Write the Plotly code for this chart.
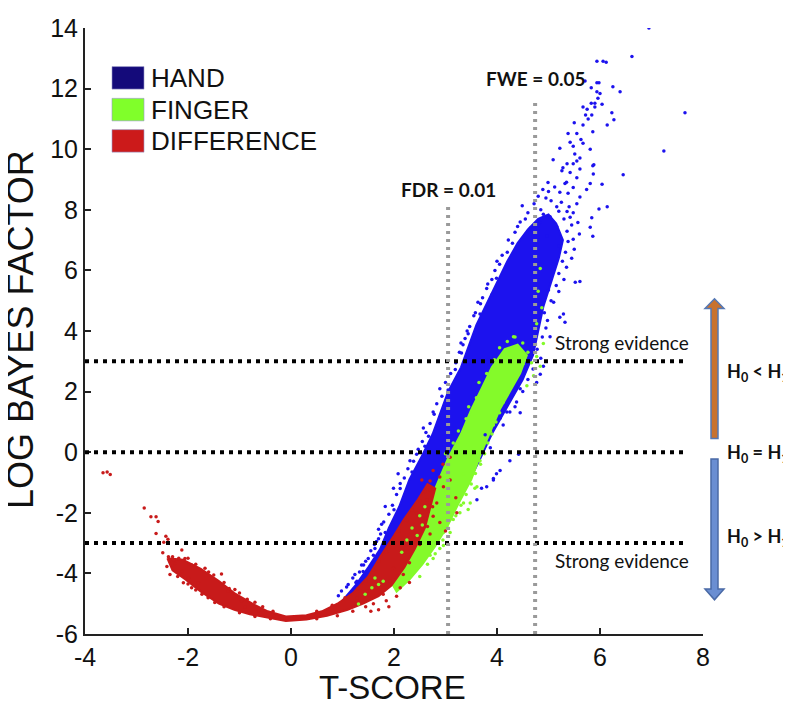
import plotly.graph_objects as go

# ---------------- data ----------------
x_ticks = [-4, -2, 0, 2, 4, 6, 8]
y_ticks = [-6, -4, -2, 0, 2, 4, 6, 8, 10, 12, 14]
series_names = ["HAND", "FINGER", "DIFFERENCE"]

evidence_levels = [3, 0, -3]          # horizontal dotted lines (log BF)
evidence_line_end = 7.65
fdr_t, fdr_top = 3.05, 8.2            # FDR = 0.01 threshold
fwe_t, fwe_top = 4.74, 11.6           # FWE = 0.05 threshold

# dense cores of each cloud (outline of the solid-looking region)
hand_core = [(1.0, -4.9), (1.25, -4.4), (1.5, -3.8), (1.73, -3.2), (1.9, -2.5), (2.1, -1.8),
             (2.3, -0.9), (2.55, -0.1), (2.75, 0.6), (2.9, 1.3), (3.05, 2.0), (3.3, 2.8),
             (3.45, 3.5), (3.6, 4.2), (3.8, 4.9), (4.0, 5.6), (4.2, 6.3), (4.4, 6.9), (4.6, 7.35),
             (4.8, 7.7), (5.0, 7.85), (5.15, 7.55), (5.28, 7.0), (5.2, 6.4), (5.05, 5.6), (4.9, 4.8),
             (4.8, 4.0), (4.7, 3.2), (4.5, 2.4), (4.2, 1.5), (3.9, 0.6), (3.65, -0.3),
             (3.35, -1.3), (3.0, -2.2), (2.6, -3.0), (2.2, -3.8), (1.8, -4.4), (1.4, -4.8), (1.1, -5.1)]
finger_core = [(1.95, -4.3), (2.15, -3.6), (2.35, -2.8), (2.6, -2.0), (2.8, -1.2), (3.05, -0.2),
               (3.3, 0.6), (3.5, 1.4), (3.7, 2.1), (3.9, 2.8), (4.15, 3.4), (4.4, 3.55), (4.58, 3.2),
               (4.45, 2.6), (4.25, 2.0), (4.05, 1.4), (3.85, 0.6), (3.7, 0.0), (3.5, -0.9),
               (3.25, -1.7), (3.05, -2.4), (2.8, -3.1), (2.55, -3.7), (2.3, -4.2), (2.05, -4.6)]
difference_core = [(-2.4, -3.5), (-2.1, -3.55), (-1.75, -3.85), (-1.4, -4.25), (-1.1, -4.65),
                   (-0.75, -5.0), (-0.45, -5.25), (-0.1, -5.42), (0.3, -5.38), (0.6, -5.25),
                   (0.9, -5.0), (1.2, -4.65), (1.5, -4.1), (1.75, -3.4), (2.0, -2.75), (2.2, -2.2),
                   (2.45, -1.6), (2.65, -1.05), (2.8, -1.2), (2.7, -1.9), (2.6, -2.5), (2.4, -3.2),
                   (2.2, -3.8), (1.95, -4.4), (1.7, -4.75), (1.4, -5.0), (1.1, -5.2), (0.7, -5.4),
                   (0.3, -5.52), (-0.1, -5.57), (-0.5, -5.45), (-0.8, -5.35), (-1.1, -5.2),
                   (-1.4, -5.0), (-1.75, -4.6), (-2.05, -4.2), (-2.3, -3.9)]

# scattered individual voxels around the cores
hand_pts = [(6.95, 14.0), (6.62, 13.06), (5.94, 12.9), (6.06, 12.9), (6.12, 12.87), (7.65, 11.2),
            (7.24, 9.94), (6.45, 9.16), (6.25, 12.06), (6.39, 11.9), (6.23, 11.2), (6.27, 10.97),
            (6.14, 10.8), (5.86, 10.58), (5.81, 10.0), (5.86, 9.45), (6.04, 8.84), (6.14, 8.1),
            (5.98, 8.03), (5.84, 7.74), (5.81, 7.42), (5.86, 7.13), (5.71, 12.25), (5.94, 12.19),
            (5.98, 12.19), (5.83, 12.03), (5.94, 11.9), (6.0, 11.84), (5.96, 11.68), (5.83, 11.52),
            (5.9, 11.52), (6.04, 11.48), (5.67, 11.39), (5.75, 11.32), (5.9, 11.39), (5.72, 11.13),
            (5.84, 11.13), (5.77, 11.0), (5.5, 10.87), (5.67, 10.8), (5.38, 10.52), (5.55, 10.52),
            (5.42, 10.23), (5.63, 10.32), (5.48, 10.1), (5.67, 10.2), (5.22, 10.03), (5.51, 9.84),
            (5.61, 9.71), (5.55, 9.61), (5.36, 9.52), (5.48, 9.52), (5.09, 9.65), (5.28, 9.39),
            (5.61, 9.35), (5.42, 9.23), (5.55, 9.06), (5.26, 9.29), (4.99, 8.9), (5.32, 8.87),
            (5.48, 8.74), (5.81, 8.87), (5.22, 8.58), (5.38, 8.55), (5.61, 8.42), (4.95, 8.39),
            (4.49, 8.13), (5.16, 8.1), (5.36, 7.94), (5.48, 7.9), (5.03, 7.77), (5.57, 7.58),
            (4.83, 7.58), (5.16, 7.45), (5.36, 7.29), (4.35, 7.26), (4.97, 7.13), (5.48, 7.03),
            (4.78, 6.94), (5.87, 9.18), (5.88, 9.49), (5.74, 8.67), (4.89, 8.67), (5.35, 8.91),
            (4.45, 7.6), (4.6, 7.9), (4.72, 8.2), (4.85, 8.0), (5.05, 8.3), (5.25, 8.25),
            (5.4, 8.1), (5.3, 7.7), (5.45, 7.5), (5.2, 7.95), (4.9, 7.85), (4.65, 7.4), (4.55, 7.7),
            (5.0, 8.6), (5.12, 8.75), (4.8, 8.45), (5.55, 8.2), (5.42, 7.75), (5.6, 7.2), (5.5, 6.7),
            (5.45, 6.4), (5.35, 6.1), (5.3, 5.7), (5.2, 5.3), (5.1, 4.95), (4.3, 6.9), (4.2, 6.6),
            (4.05, 6.2), (3.9, 5.7), (3.8, 5.4), (3.68, 4.9), (3.55, 4.5), (3.42, 4.0), (3.3, 3.6),
            (5.61, 5.63), (5.52, 5.61), (5.29, 4.56), (5.32, 4.29), (5.22, 4.45), (5.03, 3.81),
            (4.9, 2.84), (4.84, 2.57), (4.77, 2.3), (4.45, 2.09), (4.38, 1.66), (4.25, 1.33),
            (4.42, -0.07), (4.25, -0.28), (4.06, -0.6), (3.93, -0.92), (3.8, -1.14),
            (3.99, 5.74), (3.9, 5.2), (3.67, 4.56), (3.44, 3.91), (3.31, 3.27), (3.19, 2.73),
            (2.89, 2.09), (2.76, 1.33), (2.57, 0.8), (2.08, -0.71), (1.99, -1.19), (2.12, -1.03),
            (1.83, -1.79), (1.76, -2.38), (1.86, -2.75), (1.70, -2.54), (1.6, -3.4), (1.41, -3.72),
            (1.28, -4.26), (2.31, -0.28), (2.44, -0.07), (2.67, 0.53), (2.73, 0.47), (2.86, 0.8),
            (2.89, 1.12), (3.77, 0.58), (3.87, 0.15), (3.99, -0.71), (3.93, -0.87), (3.7, -1.19),
            (3.61, -1.57), (4.12, 0.9), (4.19, 1.33), (4.06, 1.12), (1.83, -2.65), (1.7, -2.86),
            (1.63, -3.18), (1.5, -3.51), (1.37, -3.72), (1.24, -4.04), (1.11, -4.37), (0.98, -4.58),
            (0.92, -4.74), (1.4, -3.94),
            (1.08, -4.45), (1.2, -4.15), (1.33, -3.95), (1.45, -3.6), (1.55, -3.25), (1.66, -2.95),
            (1.74, -2.7), (1.8, -2.3), (1.9, -2.05), (1.97, -1.75), (2.05, -1.4), (2.12, -1.2),
            (2.2, -0.85), (2.27, -0.55), (2.38, -0.3), (2.47, 0.1), (2.55, 0.35), (2.62, 0.65),
            (2.7, 0.95), (2.78, 1.25), (2.83, 1.6), (2.93, 1.85), (3.0, 2.3), (3.1, 2.6),
            (3.2, 2.95), (3.27, 3.3), (3.38, 3.75), (3.47, 4.15), (3.58, 4.6), (3.72, 5.1),
            (3.82, 5.55), (3.96, 6.0), (4.1, 6.5), (4.22, 7.0), (4.4, 7.45), (2.35, -0.65),
            (2.6, 0.2), (2.0, -1.9), (1.62, -3.05), (1.26, -4.3), (3.05, 2.05), (3.34, 3.55),
            (3.63, 4.95), (4.0, 6.3), (4.78, 3.4), (4.88, 3.8), (4.95, 4.1), (4.92, 4.6),
            (5.05, 5.0), (5.0, 5.35), (5.15, 5.5), (5.2, 5.9), (5.27, 6.3), (5.33, 6.6),
            (5.38, 6.95), (5.2, 6.8), (5.1, 6.2), (4.98, 4.35), (4.85, 3.1), (4.7, 2.75),
            (4.6, 2.4), (4.5, 2.0), (4.35, 1.5), (4.45, 1.3)]

finger_pts = [(3.67, -0.28), (3.61, -1.14), (3.44, -1.89), (3.28, -2.0), (3.09, -2.65), (2.89, -2.75),
              (2.76, -3.51), (2.7, -3.4), (2.44, -3.83), (2.31, -4.04), (2.12, -4.47), (3.09, -2.22),
              (3.35, -1.68), (3.93, 0.9), (3.87, 0.69), (3.57, -1.19), (2.96, -3.08), (1.63, -4.15),
              (1.7, -4.37), (1.57, -4.47), (1.79, -4.26), (1.44, -4.69), (1.31, -5.01), (3.35, -0.71),
              (3.48, -1.68), (3.15, -2.22), (2.89, -3.18), (2.7, -3.08), (2.96, -2.65), (4.77, 3.16),
              (4.84, 2.84), (4.71, 2.52), (4.58, 2.19), (4.67, 2.95), (4.84, 6.06), (4.8, 5.31),
              (4.87, 4.77), (4.77, 4.24), (4.9, 3.59), (4.32, 3.81), (4.25, 3.37), (2.35, -2.5),
              (2.5, -2.1), (2.6, -1.8), (2.25, -2.9), (2.45, -2.75), (2.15, -3.3), (2.55, -2.4),
              (2.5, -4.1), (2.65, -3.7), (2.8, -3.35), (2.95, -2.9), (3.05, -2.5), (3.2, -2.1),
              (3.3, -1.75), (3.4, -1.4), (3.5, -1.05), (3.58, -0.7), (3.68, -0.4), (3.76, -0.05),
              (3.82, 0.3), (3.9, 0.6), (3.98, 1.0), (4.05, 1.3), (4.12, 1.65), (4.2, 1.95),
              (4.3, 2.3), (4.4, 2.6), (4.5, 2.9), (4.6, 3.3), (4.5, 3.6), (4.35, 3.8), (4.2, 3.65),
              (3.0, -0.05), (3.15, 0.3), (3.25, 0.7), (3.4, 1.1), (3.45, 1.5), (3.6, 1.8),
              (3.65, 2.3), (3.8, 2.6), (3.95, 3.05), (4.05, 3.45)]

difference_pts = [(-3.65, -0.68), (-3.57, -0.65), (-3.51, -0.74), (-2.85, -1.84), (-2.72, -2.13),
                  (-2.62, -2.13), (-2.58, -2.29), (-2.62, -2.68), (-2.43, -2.77), (-2.39, -2.87),
                  (-2.47, -2.97), (-2.49, -3.32), (-2.12, -3.23), (-2.41, -3.77), (-2.35, -4.04),
                  (-2.25, -3.67), (-2.12, -3.94), (-2.09, -4.31), (-1.99, -4.15), (-1.93, -4.47),
                  (-1.8, -4.31), (-1.73, -4.69), (-1.61, -4.8), (-1.48, -4.96), (-1.35, -4.02),
                  (-1.22, -4.58), (-1.09, -4.53), (-2.06, -3.51), (-2.28, -3.56), (-2.38, -3.45),
                  (-1.93, -3.72), (-1.67, -3.83), (-0.96, -4.9), (-0.63, -5.23), (-0.89, -5.12),
                  (1.47, -4.58), (1.66, -4.47), (1.92, -4.26), (2.12, -4.47), (1.79, -4.69),
                  (2.18, -4.04), (1.28, -4.8), (1.99, -3.83), (1.6, -5.0), (1.85, -4.9), (2.3, -4.3),
                  (2.05, -4.75), (2.76, -0.6), (2.89, -0.82), (3.09, -0.17), (2.7, -1.25),
                  (2.64, -1.57), (2.83, -1.68), (2.44, -2.0), (2.96, -1.14), (2.54, -0.92),
                  (3.09, -0.92), (2.76, -2.11), (2.89, -2.32), (3.22, -2.0), (2.95, -0.4), (3.2, -1.5),
                  (3.0, -2.6), (2.7, -2.7), (1.7, -5.2), (1.55, -5.25), (1.9, -5.1),
                  (-2.3, -3.45), (-2.18, -3.5), (-2.0, -3.5), (-1.85, -3.7), (-1.6, -3.95),
                  (-1.5, -4.05), (-1.3, -4.3), (-1.2, -4.5), (-1.0, -4.65), (-0.85, -4.85),
                  (-0.7, -4.95), (-0.55, -5.1), (-0.35, -5.25), (-2.2, -4.1), (-2.0, -4.35),
                  (-1.85, -4.55), (-1.6, -4.75), (-1.3, -5.1), (-1.0, -5.3), (-0.7, -5.42),
                  (-0.4, -5.5), (0.5, -5.25), (0.8, -5.05), (1.05, -4.8), (1.3, -4.5), (1.45, -4.25),
                  (1.6, -3.9), (1.7, -3.6), (1.85, -3.3), (1.95, -2.95), (2.1, -2.6), (2.25, -2.25),
                  (2.35, -1.9), (2.5, -1.6), (2.6, -1.3), (2.7, -0.95), (0.5, -5.5), (0.9, -5.4),
                  (1.2, -5.25), (1.45, -5.1), (2.3, -3.65), (2.5, -3.05), (2.65, -2.45), (2.75, -1.8)]

# ---------------- styling ----------------
COL = {"HAND": "#1c12ee", "FINGER": "#84fa2a", "DIFFERENCE": "#c81a1a"}
LEG = {"HAND": "#140a7a", "FINGER": "#80ff2a", "DIFFERENCE": "#cc1a1a"}
cores = {"HAND": hand_core, "FINGER": finger_core, "DIFFERENCE": difference_core}
points = {"HAND": hand_pts, "FINGER": finger_pts, "DIFFERENCE": difference_pts}

# the page body has an 8px margin: the figure is sized so that it fills the 791x704 window
OFF = 8
W, H = 791 - OFF, 704 - OFF
L, R, T, B = 85 - OFF, 88, 14 - OFF, 70
PW, PH = W - L - R, H - T - B


def px(x):   # page pixel x -> paper
    return (x - OFF - L) / PW


def py(y):   # page pixel y -> paper
    return (H - B - (y - OFF)) / PH


fig = go.Figure()
for name in series_names:
    xs = [p[0] for p in cores[name]]
    ys = [p[1] for p in cores[name]]
    fig.add_trace(go.Scatter(x=xs + [xs[0]], y=ys + [ys[0]], fill="toself", mode="lines",
                             fillcolor=COL[name], line=dict(color=COL[name], width=2),
                             hoverinfo="skip", showlegend=False))
for name in series_names:
    fig.add_trace(go.Scatter(x=[p[0] for p in points[name]], y=[p[1] for p in points[name]],
                             mode="markers", name=name,
                             marker=dict(color=COL[name], size=3.5, line=dict(width=0)),
                             showlegend=False))

shapes = []
for lv in evidence_levels:
    shapes.append(dict(type="line", xref="x", yref="y", x0=-4, x1=evidence_line_end, y0=lv, y1=lv,
                       line=dict(color="black", width=4, dash="4px,5px")))
for t, top in [(fdr_t, fdr_top), (fwe_t, fwe_top)]:
    shapes.append(dict(type="line", xref="x", yref="y", x0=t, x1=t, y0=-6, y1=top,
                       line=dict(color="#9a9a9a", width=4, dash="3px,5px")))


def path(pts):
    return "M" + " L".join(f"{px(a):.5f},{py(b):.5f}" for a, b in pts) + " Z"


up_arrow = [(711, 434), (711, 301), (705, 301), (714.5, 291), (724, 301), (718, 301), (718, 434)]
down_arrow = [(711, 455), (711, 588), (705, 588), (714.5, 599), (724, 588), (718, 588), (718, 455)]
shapes.append(dict(type="path", xref="paper", yref="paper", path=path(up_arrow),
                   fillcolor="#c8722f", line=dict(color="#5578b4", width=1.5)))
shapes.append(dict(type="path", xref="paper", yref="paper", path=path(down_arrow),
                   fillcolor="#6a8ed2", line=dict(color="#4a6aa6", width=1.5)))

# legend boxes
legend_rows = {"HAND": 65, "FINGER": 97.5, "DIFFERENCE": 129.5}
for name in series_names:
    cy = legend_rows[name]
    shapes.append(dict(type="rect", xref="paper", yref="paper", x0=px(112), x1=px(144),
                       y0=py(cy + 11.5), y1=py(cy - 11.5), fillcolor=LEG[name],
                       line=dict(color="rgba(150,150,200,0.6)", width=1)))

ann = []
for name in series_names:
    ann.append(dict(text=name, x=px(149), y=py(legend_rows[name]), xanchor="left", yanchor="middle",
                    font=dict(family="Liberation Sans, Arial", size=26, color="#111")))

calib = "Lato, Open Sans, sans-serif"
ann += [
    dict(text="<b>FDR = 0.01</b>", x=px(448), y=py(179), xanchor="center", yanchor="middle",
         font=dict(family=calib, size=19, color="#111")),
    dict(text="<b>FWE = 0.05</b>", x=px(535), y=py(66), xanchor="center", yanchor="middle",
         font=dict(family=calib, size=19, color="#111")),
    dict(text="Strong evidence", x=px(622), y=py(336), xanchor="center", yanchor="middle",
         font=dict(family=calib, size=19, color="#111")),
    dict(text="Strong evidence", x=px(622), y=py(559), xanchor="center", yanchor="middle",
         font=dict(family=calib, size=19, color="#111")),
    dict(text="<b>H<sub>0</sub> &lt; H<sub>1</sub></b>", x=px(725), y=py(366), xanchor="left",
         yanchor="middle", font=dict(family=calib, size=18, color="#111")),
    dict(text="<b>H<sub>0</sub> = H<sub>1</sub></b>", x=px(725), y=py(449), xanchor="left",
         yanchor="middle", font=dict(family=calib, size=18, color="#111")),
    dict(text="<b>H<sub>0</sub> &gt; H<sub>1</sub></b>", x=px(725), y=py(535), xanchor="left",
         yanchor="middle", font=dict(family=calib, size=18, color="#111")),
    dict(text="LOG BAYES FACTOR", x=px(20), y=py(323), textangle=-90, xanchor="center",
         yanchor="middle", font=dict(family="Liberation Sans, Arial", size=36, color="#111")),
    dict(text="T-SCORE", x=px(392), y=py(689), xanchor="center", yanchor="middle",
         font=dict(family="Liberation Sans, Arial", size=33, color="#111")),
]
for a in ann:
    a.update(xref="paper", yref="paper", showarrow=False)

axis_common = dict(showline=True, linecolor="#222", linewidth=2, ticks="inside", ticklen=6,
                   tickwidth=2, tickcolor="#222", showgrid=False, zeroline=False,
                   ticklabeloverflow="allow",
                   tickfont=dict(family="Liberation Sans, Arial", size=25, color="#111"))
fig.update_layout(
    width=W, height=H, autosize=False,
    margin=dict(l=L, r=R, t=T, b=B),
    paper_bgcolor="white", plot_bgcolor="white",
    showlegend=False,
    xaxis=dict(range=[-4, 8], tickvals=x_ticks, ticktext=[str(v) for v in x_ticks], **axis_common),
    yaxis=dict(range=[-6, 14], tickvals=y_ticks, ticktext=[str(v) for v in y_ticks], **axis_common),
    shapes=shapes, annotations=ann,
)
fig.write_html("out.html")
